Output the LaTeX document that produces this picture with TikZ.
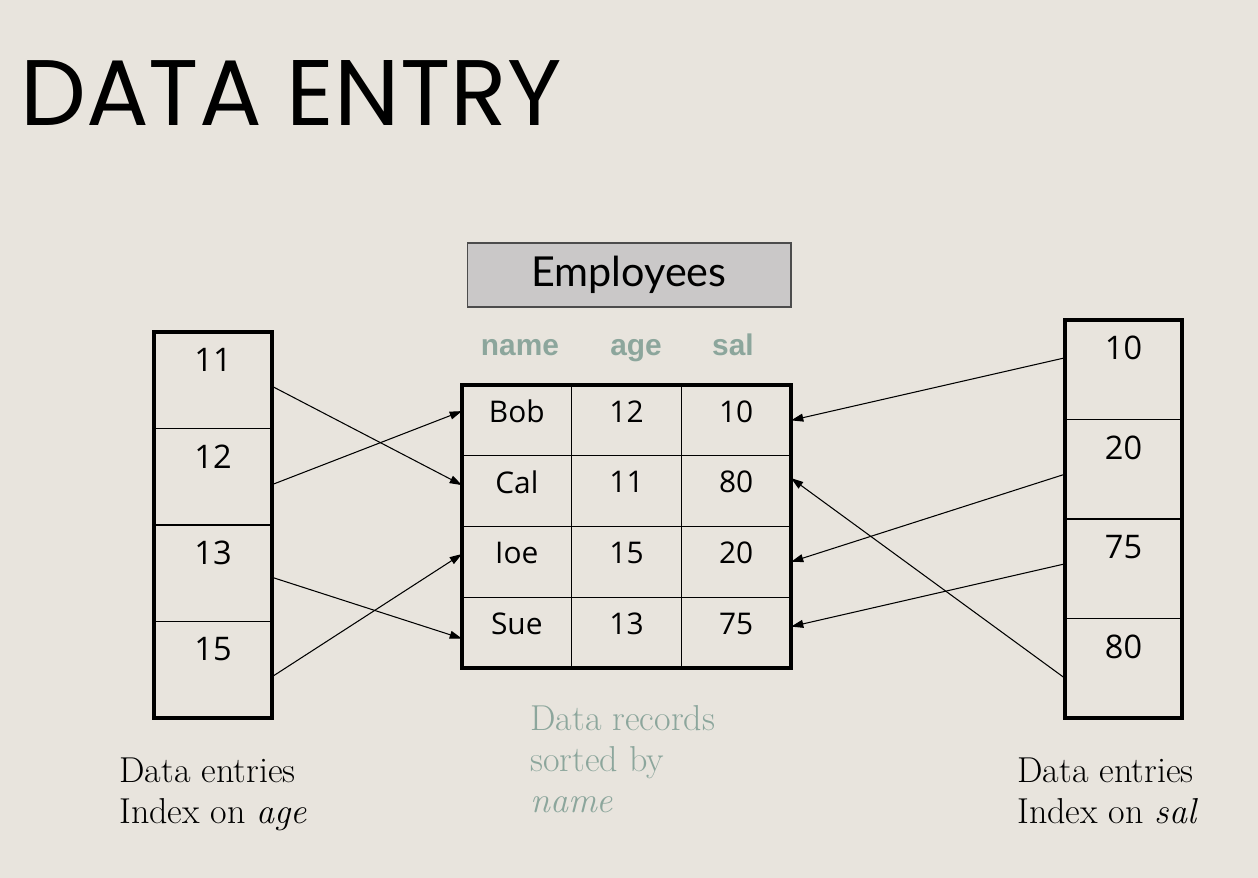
\documentclass[tikz,border=0pt]{standalone}
\usepackage{fontspec}
\usetikzlibrary{arrows.meta,calc}
\newfontfamily\titlefont{Poppins}
\newfontfamily\empfont{Lato}
\newfontfamily\hdrfont{Liberation Sans}
\newfontfamily\cellfont{Open Sans}
\definecolor{bg}{RGB}{232,228,221}
\definecolor{boxgray}{RGB}{202,200,200}
\definecolor{hdrgreen}{RGB}{140,166,156}
\tikzset{
  tcell/.style={draw, line width=0.8pt, minimum width=2.193cm, minimum height=1.415cm, inner sep=0pt, outer sep=0pt},
  tlab/.style={inner sep=0pt, yshift=5pt, font=\cellfont\fontsize{17}{19}\selectfont},
  lcell/.style={draw, line width=0.8pt, minimum width=2.36cm, minimum height=1.93cm, inner sep=0pt, outer sep=0pt},
  rcell/.style={draw, line width=0.8pt, minimum width=2.34cm, minimum height=1.99cm, inner sep=0pt, outer sep=0pt},
  ilab/.style={anchor=north, inner sep=0pt, yshift=-9pt, font=\cellfont\fontsize{18.5}{21}\selectfont},
  hdr/.style={anchor=base, inner sep=0pt, text=hdrgreen, font=\hdrfont\bfseries\fontsize{17}{19}\selectfont},
  arr/.style={line width=0.6pt, -{Triangle[length=7pt,width=4.5pt]}},
  thick border/.style={line width=2.3pt},
  captxt/.style={anchor=base west, inner sep=0pt, align=left, font=\fontsize{20.5}{23.2}\selectfont}
}
\begin{document}
\begin{tikzpicture}[x=0.02cm,y=-0.02cm]
\fill[bg] (0,0) rectangle (1258,878);
\useasboundingbox (0,0) rectangle (1258,878);

% title
\node[anchor=base west, inner sep=0pt] (title) at (20,126) {\titlefont\fontsize{53}{60}\selectfont DATA ENTRY};

% Employees box
\node[draw=black!70, fill=boxgray, line width=0.6pt, minimum width=6.48cm, minimum height=1.28cm, inner sep=0pt,
      font=\empfont\fontsize{23.5}{26}\selectfont] (emp) at (629,275) {Employees};

% headers
\node[hdr] (hname) at (520,356) {name};
\node[hdr] (hage)  at (636,356) {age};
\node[hdr] (hsal)  at (733,356) {sal};

% table
\node[tcell, label={[tlab]center:Bob}] (t11) at (516.8,420.4) {};
\node[tcell, label={[tlab]center:12}]  (t12) at (626.5,420.4) {};
\node[tcell, label={[tlab]center:10}]  (t13) at (736.2,420.4) {};
\node[tcell, label={[tlab]center:Cal}] (t21) at (516.8,491.1) {};
\node[tcell, label={[tlab]center:11}]  (t22) at (626.5,491.1) {};
\node[tcell, label={[tlab]center:80}]  (t23) at (736.2,491.1) {};
\node[tcell, label={[tlab]center:Ioe}] (t31) at (516.8,561.9) {};
\node[tcell, label={[tlab]center:15}]  (t32) at (626.5,561.9) {};
\node[tcell, label={[tlab]center:20}]  (t33) at (736.2,561.9) {};
\node[tcell, label={[tlab]center:Sue}] (t41) at (516.8,632.6) {};
\node[tcell, label={[tlab]center:13}]  (t42) at (626.5,632.6) {};
\node[tcell, label={[tlab]center:75}]  (t43) at (736.2,632.6) {};
\draw[thick border] (t11.north west) rectangle (t43.south east);

% left index (age)
\node[lcell, label={[ilab]north:11}] (l1) at (213,380.25) {};
\node[lcell, label={[ilab]north:12}] (l2) at (213,476.75) {};
\node[lcell, label={[ilab]north:13}] (l3) at (213,573.25) {};
\node[lcell, label={[ilab]north:15}] (l4) at (213,669.75) {};
\draw[thick border] (l1.north west) rectangle (l4.south east);

% right index (sal)
\node[rcell, label={[ilab]north:10}] (r1) at (1123.5,369.75) {};
\node[rcell, label={[ilab]north:20}] (r2) at (1123.5,469.25) {};
\node[rcell, label={[ilab]north:75}] (r3) at (1123.5,568.75) {};
\node[rcell, label={[ilab]north:80}] (r4) at (1123.5,668.25) {};
\draw[thick border] (r1.north west) rectangle (r4.south east);

% left arrows
\draw[arr] ([yshift=-3.4pt]l1.east) -- ([yshift=3.4pt]t21.west);
\draw[arr] ([yshift=-4.5pt]l2.east) -- ([yshift=5.3pt]t11.west);
\draw[arr] ([yshift=-2.3pt]l3.east) -- ([yshift=-3.4pt]t41.west);
\draw[arr] ([yshift=-4pt]l4.east) -- ([yshift=4.5pt]t31.west);

% right arrows
\draw[arr] ([yshift=6.8pt]r1.west) -- (t13.east);
\draw[arr] ([yshift=-2.8pt]r2.west) -- (t33.east);
\draw[arr] ([yshift=2.8pt]r3.west) -- ([yshift=3.4pt]t43.east);
\draw[arr] ([yshift=-5.7pt]r4.west) -- ([yshift=7.4pt]t23.east);

% captions (base = baseline of last line)
\node[captxt] (capl) at (119,823) {Data entries\\Index on \textit{age}};
\node[captxt, text=hdrgreen] (capm) at (530,812) {Data records\\sorted by\\\textit{name}};
\node[captxt] (capr) at (1017,823) {Data entries\\Index on \textit{sal}};
\end{tikzpicture}
\end{document}
